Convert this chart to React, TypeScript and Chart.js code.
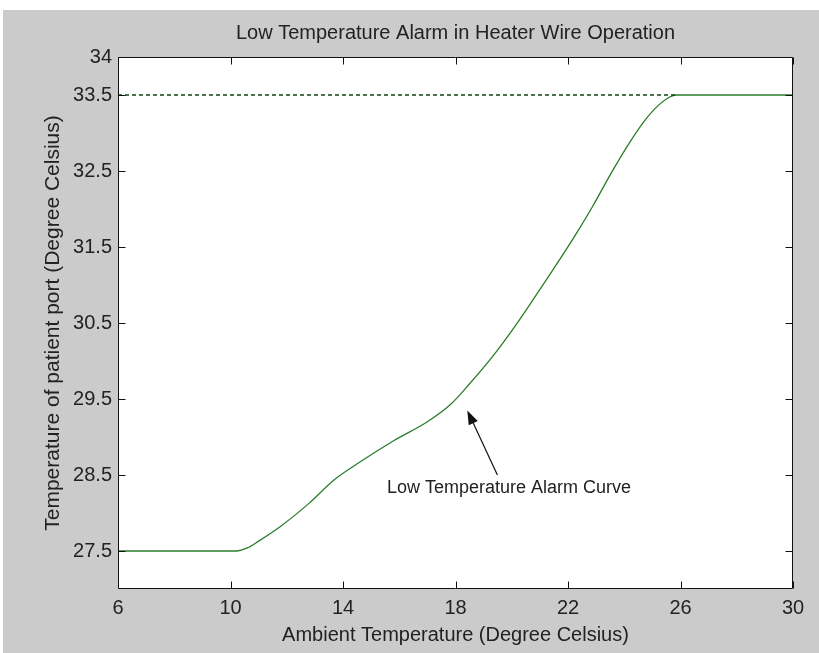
import React, { useEffect, useRef } from "react";
import { Chart, registerables } from "chart.js";

Chart.register(...registerables);

// ---- data ----
const ambientTemp = [6, 10.2, 10.6, 11.0, 11.8, 12.8, 13.7, 14.6, 15.8, 17.0, 17.8, 18.5, 19.3, 20.1, 20.8, 21.5, 22.3, 22.9, 23.5, 24.2, 24.7, 25.2, 25.6, 25.85, 30];
const alarmTemp = [27.5, 27.5, 27.54, 27.63, 27.83, 28.13, 28.44, 28.67, 28.95, 29.2, 29.42, 29.7, 30.05, 30.45, 30.83, 31.22, 31.68, 32.05, 32.45, 32.88, 33.15, 33.36, 33.47, 33.5, 33.5];
const setPointX = [6, 25.85];
const setPointY = 33.5;
const xTicks = [6, 10, 14, 18, 22, 26, 30];
const yTicks = [27.5, 28.5, 29.5, 30.5, 31.5, 32.5, 33.5, 34];
const xRange = [6, 30];
const yRange = [27, 34];
const titleText = "Low Temperature Alarm in Heater Wire Operation";
const xTitle = "Ambient Temperature (Degree Celsius)";
const yTitle = "Temperature of patient port (Degree Celsius)";
const noteText = "Low Temperature Alarm Curve";
const noteAt = { x: 19.9, y: 28.33 };
const arrowFrom = { x: 19.49, y: 28.5 };
const arrowTo = { x: 18.42, y: 29.35 };

const FONT = "'Liberation Sans', Arial, Helvetica, sans-serif";
const TEXT = "#222222";

const framePlugin = {
  id: "frame",
  beforeDraw(chart: any) {
    const { ctx, chartArea } = chart;
    const { left, top, right, bottom } = chartArea;
    ctx.save();
    ctx.fillStyle = "#ffffff";
    ctx.fillRect(left, top, right - left, bottom - top);
    ctx.restore();
  },
  afterDatasetsDraw(chart: any) {
    const { ctx, chartArea, scales } = chart;
    const { left, top, right, bottom } = chartArea;
    const xs = scales.x;
    const ys = scales.y;
    const L = Math.round(left) + 0.5;
    const R = Math.round(right) - 0.5;
    const T = Math.round(top) + 0.5;
    const B = Math.round(bottom) - 0.5;
    const tl = 7;
    ctx.save();
    ctx.strokeStyle = "#111111";
    ctx.lineWidth = 1;
    ctx.beginPath();
    ctx.rect(L, T, R - L, B - T);
    for (const v of xTicks) {
      const px = Math.round(xs.getPixelForValue(v)) + 0.5;
      ctx.moveTo(px, B);
      ctx.lineTo(px, B - tl);
      ctx.moveTo(px, T);
      ctx.lineTo(px, T + tl);
    }
    for (const v of yTicks) {
      const py = Math.round(ys.getPixelForValue(v)) + 0.5;
      ctx.moveTo(L, py);
      ctx.lineTo(L + tl, py);
      ctx.moveTo(R, py);
      ctx.lineTo(R - tl, py);
    }
    ctx.stroke();

    // annotation text
    ctx.fillStyle = TEXT;
    ctx.font = `18px ${FONT}`;
    ctx.textAlign = "center";
    ctx.textBaseline = "middle";
    ctx.fillText(noteText, xs.getPixelForValue(noteAt.x), ys.getPixelForValue(noteAt.y));

    // arrow
    const x0 = xs.getPixelForValue(arrowFrom.x);
    const y0 = ys.getPixelForValue(arrowFrom.y);
    const x1 = xs.getPixelForValue(arrowTo.x);
    const y1 = ys.getPixelForValue(arrowTo.y);
    const ang = Math.atan2(y1 - y0, x1 - x0);
    const hl = 14;
    const hw = 5;
    const bx = x1 - hl * Math.cos(ang);
    const by = y1 - hl * Math.sin(ang);
    ctx.strokeStyle = "#111111";
    ctx.lineWidth = 1.2;
    ctx.beginPath();
    ctx.moveTo(x0, y0);
    ctx.lineTo(bx, by);
    ctx.stroke();
    ctx.fillStyle = "#111111";
    ctx.beginPath();
    ctx.moveTo(x1, y1);
    ctx.lineTo(bx + hw * Math.sin(ang), by - hw * Math.cos(ang));
    ctx.lineTo(bx - hw * Math.sin(ang), by + hw * Math.cos(ang));
    ctx.closePath();
    ctx.fill();
    ctx.restore();
  },
};

export default function App() {
  const ref = useRef<HTMLCanvasElement | null>(null);

  useEffect(() => {
    if (!ref.current) return;
    const curve = ambientTemp.map((x, i) => ({ x, y: alarmTemp[i] }));
    const setLine = setPointX.map((x) => ({ x, y: setPointY }));
    const chart = new Chart(ref.current, {
      type: "line",
      data: {
        datasets: [
          {
            label: "Set point",
            data: setLine,
            borderColor: "#0e460e",
            borderWidth: 1.4,
            borderDash: [4, 3],
            pointRadius: 0,
            fill: false,
          },
          {
            label: "Low Temperature Alarm Curve",
            data: curve,
            borderColor: "#2a7d2a",
            borderWidth: 1.3,
            pointRadius: 0,
            fill: false,
            cubicInterpolationMode: "monotone",
          },
        ],
      },
      options: {
        responsive: false,
        animation: false,
        events: [],
        layout: { padding: { left: 0, right: 26, top: 0, bottom: 0 } },
        plugins: {
          legend: { display: false },
          tooltip: { enabled: false },
          title: { display: false },
        },
        scales: {
          x: {
            type: "linear",
            min: xRange[0],
            max: xRange[1],
            grid: { display: false, drawTicks: false },
            border: { display: false },
            afterBuildTicks: (s: any) => {
              s.ticks = xTicks.map((v) => ({ value: v }));
            },
            afterFit: (s: any) => {
              s.height = 64;
              s.paddingLeft = 0;
              s.paddingRight = 0;
            },
            ticks: {
              color: TEXT,
              font: { family: FONT, size: 20 },
              padding: 7,
              maxRotation: 0,
              autoSkip: false,
              callback: (v: any) => String(v),
            },
            title: {
              display: true,
              text: xTitle,
              color: TEXT,
              font: { family: FONT, size: 20 },
              padding: { top: 0, bottom: 6 },
            },
          },
          x2: {
            type: "linear",
            position: "top",
            min: xRange[0],
            max: xRange[1],
            grid: { display: false, drawTicks: false },
            border: { display: false },
            ticks: { display: false },
            afterFit: (s: any) => {
              s.height = 47;
              s.paddingLeft = 0;
              s.paddingRight = 0;
            },
            title: {
              display: true,
              text: titleText,
              color: TEXT,
              font: { family: FONT, size: 20 },
              padding: { top: 11, bottom: 0 },
            },
          },
          y: {
            type: "linear",
            min: yRange[0],
            max: yRange[1],
            grid: { display: false, drawTicks: false },
            border: { display: false },
            afterBuildTicks: (s: any) => {
              s.ticks = yTicks.map((v) => ({ value: v }));
            },
            afterFit: (s: any) => {
              s.width = 115;
              s.paddingTop = 0;
              s.paddingBottom = 0;
            },
            ticks: {
              color: TEXT,
              font: { family: FONT, size: 20 },
              padding: 6,
              autoSkip: false,
              callback: (v: any) => String(v),
            },
            title: {
              display: true,
              text: yTitle,
              color: TEXT,
              font: { family: FONT, size: 21 },
              padding: { top: 38, bottom: 0 },
            },
          },
        },
      },
      plugins: [framePlugin],
    });
    return () => chart.destroy();
  }, []);

  return (
    <div style={{ position: "fixed", left: 0, top: 0, width: 819, height: 653, background: "#ffffff" }}>
      <canvas
        ref={ref}
        width={816}
        height={643}
        style={{ position: "absolute", left: 3, top: 10, width: 816, height: 643, background: "#cbcbcb" }}
      />
    </div>
  );
}
